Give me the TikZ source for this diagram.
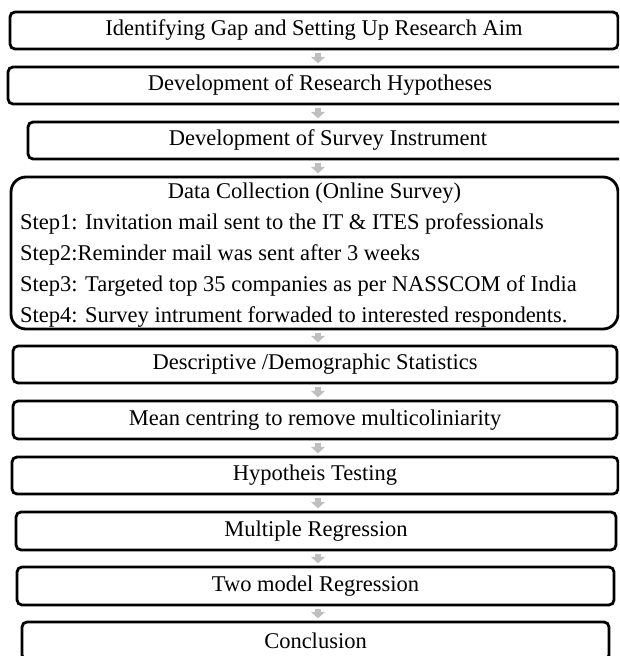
\documentclass[tikz,border=0pt]{standalone}
\usepackage{fontspec}
\setmainfont{Liberation Serif}
\usetikzlibrary{arrows.meta}
\definecolor{arrowgray}{RGB}{191,191,191}
\tikzset{
  box/.style={draw=black, line width=2.8pt, rounded corners=5pt, fill=white, inner sep=0pt,
    font=\fontsize{22.5}{27}\selectfont},
  bigbox/.style={draw=black, line width=2.8pt, rounded corners=15pt, fill=white, inner sep=0pt},
  txt/.style={font=\fontsize{22.5}{27}\selectfont, inner sep=0pt},
  flowarrow/.style={draw=arrowgray, line width=6.5pt, shorten <=2.3pt, shorten >=2.3pt,
    -{Triangle[width=14pt,length=6.5pt]}}
}
\begin{document}
\begin{tikzpicture}[x=1pt,y=-1pt]
\useasboundingbox (0,0) rectangle (619,656);
\clip (0,0) rectangle (619,656);
\fill[white] (0,0) rectangle (619,656);
% boxes
\node (b1) [box, minimum width=608pt, minimum height=37pt] at (314,30.5) {Identifying Gap and Setting Up Research Aim};
\node (b2) [box, minimum width=624pt, minimum height=37pt] at (320,85.5) {Development of Research Hypotheses};
\node (b3) [box, minimum width=600pt, minimum height=37pt] at (328,140.5) {Development of Survey Instrument};
\node (b4) [bigbox, minimum width=607pt, minimum height=152pt] at (314.5,253) {};
\node (t4) [txt, anchor=base] at (314.5,198) {Data Collection (Online Survey)};
\node (s1) [txt, anchor=base west] at (20,229) {Step1: Invitation mail sent to the IT \& ITES professionals};
\node (s2) [txt, anchor=base west] at (20,260) {Step2:Reminder mail was sent after 3 weeks};
\node (s3) [txt, anchor=base west] at (20,291) {Step3: Targeted top 35 companies as per NASSCOM of India};
\node (s4) [txt, anchor=base west] at (20,322) {Step4: Survey intrument forwaded to interested respondents.};
\node (b5) [box, minimum width=604pt, minimum height=37pt] at (315,364.5) {Descriptive /Demographic Statistics};
\node (b6) [box, minimum width=604pt, minimum height=38pt] at (315,420) {Mean centring to remove multicoliniarity};
\node (b7) [box, minimum width=606pt, minimum height=37pt] at (315,475.5) {Hypotheis Testing};
\node (b8) [box, minimum width=600pt, minimum height=38pt] at (316,531) {Multiple Regression};
\node (b9) [box, minimum width=597pt, minimum height=38pt] at (315.5,586) {Two model Regression};
\node (b10) [box, minimum width=587pt, minimum height=38pt] at (315.5,641) {Conclusion};
% arrows
\coordinate (ax) at (318,0);
\draw[flowarrow] (b1.south -| ax) -- (b2.north -| ax);
\draw[flowarrow] (b2.south -| ax) -- (b3.north -| ax);
\draw[flowarrow] (b3.south -| ax) -- (b4.north -| ax);
\draw[flowarrow] (b4.south -| ax) -- (b5.north -| ax);
\draw[flowarrow] (b5.south -| ax) -- (b6.north -| ax);
\draw[flowarrow] (b6.south -| ax) -- (b7.north -| ax);
\draw[flowarrow] (b7.south -| ax) -- (b8.north -| ax);
\draw[flowarrow] (b8.south -| ax) -- (b9.north -| ax);
\draw[flowarrow] (b9.south -| ax) -- (b10.north -| ax);
\end{tikzpicture}
\end{document}
